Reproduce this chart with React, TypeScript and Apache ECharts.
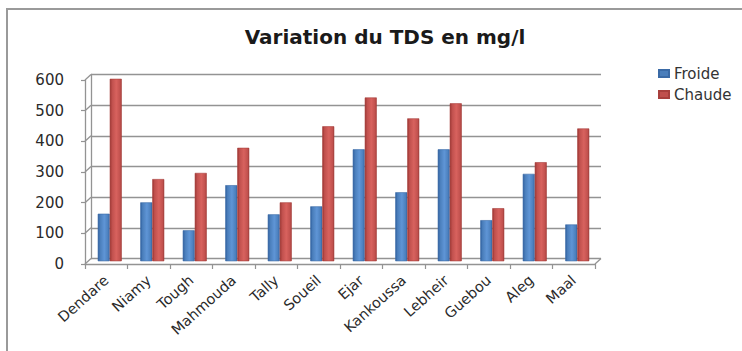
import { useEffect, useRef } from "react";
import * as echarts from "echarts";

// TDS (mg/l) per site, cold vs hot water
const categories = [
  "Dendare", "Niamy", "Tough", "Mahmouda", "Tally", "Soueil",
  "Ejar", "Kankoussa", "Lebheir", "Guebou", "Aleg", "Maal",
];
const froide = [155, 192, 101, 248, 153, 179, 365, 225, 365, 134, 285, 120];
const chaude = [595, 268, 288, 370, 192, 440, 534, 466, 515, 173, 323, 433];
const yTicks = [0, 100, 200, 300, 400, 500, 600];

const FONT = "DejaVu Sans";
const DEPTH_X = 6;
const DEPTH_Y = -5.5;

function shade(dark: string, base: string, light: string) {
  return new echarts.graphic.LinearGradient(0, 0, 1, 0, [
    { offset: 0, color: dark },
    { offset: 0.18, color: base },
    { offset: 0.55, color: light },
    { offset: 0.9, color: base },
    { offset: 1, color: dark },
  ]);
}

export default function App() {
  const ref = useRef<HTMLDivElement>(null);

  useEffect(() => {
    if (!ref.current) return;
    const chart = echarts.init(ref.current, null, { renderer: "svg" });

    const axisGrey = "#939393";

    chart.setOption({
      animation: false,
      backgroundColor: "#ffffff",
      title: {
        text: "Variation du TDS en mg/l",
        left: 380,
        textAlign: "center",
        top: 22,
        textStyle: { fontFamily: FONT, fontSize: 20, fontWeight: "bold", color: "#1a1a1a" },
      },
      legend: {
        orient: "vertical",
        left: 653,
        top: 61,
        itemWidth: 10,
        itemHeight: 7,
        itemGap: 6,
        icon: "rect",
        textStyle: { fontFamily: FONT, fontSize: 15, color: "#333" },
        data: [
          { name: "Froide", itemStyle: { color: "#4a7ebb" } },
          { name: "Chaude", itemStyle: { color: "#c0504d" } },
        ],
      },
      graphic: [
        {
          type: "rect",
          shape: { x: 7, y: 9, width: 900, height: 500 },
          style: { fill: "none", stroke: "#9a9a9a", lineWidth: 2 },
          silent: true,
        },
      ],
      grid: [
        // front edge (axes, labels)
        { left: 85, top: 80, width: 510, height: 184 },
        // back wall (gridlines)
        { left: 85 + DEPTH_X, top: 80 + DEPTH_Y, width: 510, height: 184 },
        // mid depth (columns)
        { left: 85 + DEPTH_X / 2 + 0.5, top: 80 + DEPTH_Y / 2, width: 510, height: 184 },
      ],
      xAxis: [
        {
          type: "category",
          gridIndex: 0,
          data: categories,
          axisLine: { lineStyle: { color: axisGrey, width: 1.3 } },
          axisTick: { show: true, length: 5, lineStyle: { color: axisGrey, width: 1.2 } },
          axisLabel: {
            rotate: 42,
            margin: 14,
            interval: 0,
            fontFamily: FONT,
            fontSize: 14.5,
            color: "#2a2a2a",
          },
        },
        { type: "category", gridIndex: 1, data: categories, show: false },
        { type: "category", gridIndex: 2, data: categories, show: false },
      ],
      yAxis: [
        {
          type: "value",
          gridIndex: 0,
          min: 0,
          max: 600,
          interval: 100,
          axisLine: { show: true, lineStyle: { color: axisGrey, width: 1.3 } },
          axisTick: { show: true, length: 4, lineStyle: { color: axisGrey, width: 1.2 } },
          axisLabel: { margin: 21, fontFamily: FONT, fontSize: 15, color: "#2a2a2a" },
          splitLine: { show: false },
        },
        {
          type: "value",
          gridIndex: 1,
          min: 0,
          max: 600,
          interval: 100,
          axisLine: { show: true, lineStyle: { color: axisGrey, width: 1.3 } },
          axisTick: { show: false },
          axisLabel: { show: false },
          splitLine: { show: true, lineStyle: { color: axisGrey, width: 1.4 } },
        },
        { type: "value", gridIndex: 2, min: 0, max: 600, interval: 100, show: false },
      ],
      series: [
        {
          // side-wall and floor connectors between the front edge and the back wall
          type: "custom",
          xAxisIndex: 0,
          yAxisIndex: 0,
          silent: true,
          data: yTicks.map((v) => [0, v]),
          renderItem: (params: any, api: any) => {
            const cs = params.coordSys;
            const y = api.coord([0, api.value(1)])[1];
            const style = { stroke: axisGrey, lineWidth: 1.3, fill: "none" };
            const children: any[] = [
              {
                type: "line",
                shape: { x1: cs.x, y1: y, x2: cs.x + DEPTH_X, y2: y + DEPTH_Y },
                style,
              },
            ];
            if (api.value(1) === 0) {
              children.push({
                type: "line",
                shape: {
                  x1: cs.x + cs.width,
                  y1: y,
                  x2: cs.x + cs.width + DEPTH_X,
                  y2: y + DEPTH_Y,
                },
                style,
              });
            }
            return { type: "group", children };
          },
        },
        {
          name: "Froide",
          type: "bar",
          xAxisIndex: 2,
          yAxisIndex: 2,
          barWidth: 12,
          barGap: "0%",
          data: froide,
          itemStyle: {
            color: shade("#2f5f9e", "#4a7ebb", "#5f95d6"),
            borderColor: "#3a6aa6",
            borderWidth: 0.6,
          },
        },
        {
          name: "Chaude",
          type: "bar",
          xAxisIndex: 2,
          yAxisIndex: 2,
          barWidth: 12,
          barGap: "0%",
          data: chaude,
          itemStyle: {
            color: shade("#9a3532", "#c0504d", "#d8625e"),
            borderColor: "#a8403d",
            borderWidth: 0.6,
          },
        },
      ],
    });

    return () => chart.dispose();
  }, []);

  return (
    <div
      ref={ref}
      style={{ position: "fixed", left: 0, top: 0, width: 742, height: 351 }}
    />
  );
}
